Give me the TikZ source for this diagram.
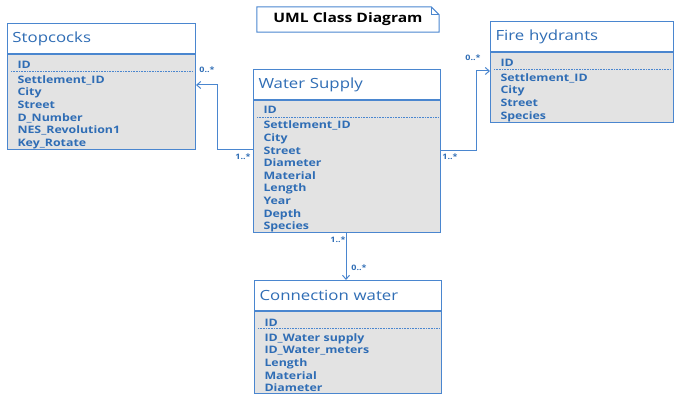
\documentclass[tikz,border=0pt]{standalone}
\usepackage{fontspec}
\setmainfont{Open Sans}[FakeStretch=1.2]
\usetikzlibrary{arrows.meta}
\usetikzlibrary{calc}
\definecolor{umlblue}{HTML}{4A86CF}
\definecolor{umltext}{HTML}{2F6DB5}
\definecolor{umlgray}{HTML}{E3E3E3}
\newcommand{\firstrow}{\rule{0pt}{13pt}}
\tikzset{
    classhead/.style = {draw=umlblue, fill=white, line width=1pt, anchor=north west, align=left,
        inner xsep=5pt, inner ysep=0pt, minimum height=30pt, text width=#1, text=umltext,
        font=\fontsize{14}{16}\selectfont},
    classbody/.style = {draw=umlblue, fill=umlgray, line width=1pt, anchor=north west, align=left,
        inner xsep=10pt, inner ysep=0pt, text width=#1, text=umltext,
        font=\fontsize{10.3}{12.6}\selectfont\bfseries},
    sepline/.style = {umlblue, line width=0.8pt, dash pattern=on 1pt off 0.6pt},
    assoc/.style = {umlblue, line width=1pt, -{Straight Barb[length=4pt,width=7pt]}},
    mult/.style = {text=umltext, inner sep=0pt, font=\fontsize{7.5}{9}\selectfont\bfseries},
    notebox/.style = {inner sep=0pt, minimum width=182pt, minimum height=25pt,
        font=\fontsize{13}{15}\selectfont\bfseries}
}

\begin{document}
\begin{tikzpicture}[x=1pt, y=1pt]
    \useasboundingbox (0,0) rectangle (674,-395);

    % note
    \node [notebox] (note) at (348,-19.5) {UML Class Diagram};
    \draw [umlblue, line width=1pt] (note.south west) -- (note.north west)
        -- ([xshift=-8pt]note.north east) -- ([yshift=-8pt]note.north east)
        -- (note.south east) -- cycle;
    \draw [umlblue, line width=0.8pt] ([xshift=-8pt]note.north east)
        -- ([xshift=-8pt, yshift=-8pt]note.north east) -- ([yshift=-8pt]note.north east);

    % Stopcocks
    \node [classhead=178pt] (stophead) at (7,-23) {Stopcocks};
    \node [classbody=168pt, minimum height=95pt] (stopbody) at (stophead.south west)
        {\firstrow ID\\[2.4pt] Settlement\_ID\\ City\\ Street\\ D\_Number\\ NES\_Revolution1\\ Key\_Rotate};

    % Water Supply
    \node [classhead=177pt] (wshead) at (253,-69) {Water Supply};
    \node [classbody=167pt, minimum height=132pt] (wsbody) at (wshead.south west)
        {\firstrow ID\\[2.4pt] Settlement\_ID\\ City\\ Street\\ Diameter\\ Material\\ Length\\ Year\\ Depth\\ Species};

    % Fire hydrants
    \node [classhead=173pt] (fhhead) at (490,-21) {Fire hydrants};
    \node [classbody=163pt, minimum height=70pt] (fhbody) at (fhhead.south west)
        {\firstrow ID\\[2.4pt] Settlement\_ID\\ City\\ Street\\ Species};

    % Connection water
    \node [classhead=177pt] (cwhead) at (254,-280) {Connection water};
    \node [classbody=167pt, minimum height=82pt] (cwbody) at (cwhead.south west)
        {\firstrow ID\\[2.4pt] ID\_Water supply\\ ID\_Water\_meters\\ Length\\ Material\\ Diameter};

    \foreach \b in {stopbody, wsbody, fhbody, cwbody}
        \draw [sepline] ($(\b.north west)+(4,-17)$) -- ($(\b.north east)+(-3,-17)$);

    % associations
    \draw [assoc] (wsbody.west |- 0,-150) -| ($(stopbody.east |- 0,-85)+(21,0)$) -- (stopbody.east |- 0,-85);
    \draw [assoc] (wsbody.east |- 0,-151) -| ($(fhbody.west |- 0,-71)+(-14,0)$) -- (fhbody.west |- 0,-71);
    \draw [assoc] (wsbody.south -| 346,0) -- (cwhead.north -| 346,0);

    \node [mult] (m1) at (207,-70) {0..*};
    \node [mult] (m2) at (243,-157) {1..*};
    \node [mult] (m3) at (473,-58) {0..*};
    \node [mult] (m4) at (450,-157) {1..*};
    \node [mult] (m5) at (338,-240) {1..*};
    \node [mult] (m6) at (359,-268) {0..*};
\end{tikzpicture}
\end{document}
